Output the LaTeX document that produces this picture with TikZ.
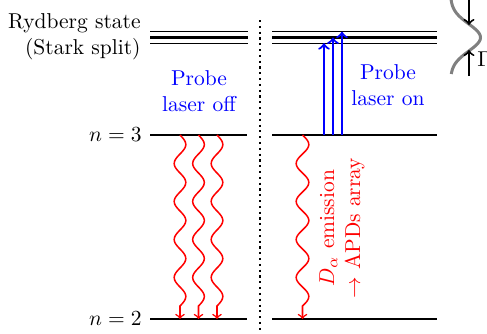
\documentclass[tikz,border=0pt]{standalone}
\begin{document}
\begin{tikzpicture}[x=0.465pt,y=-0.465pt,
  level/.style={line width=1pt},
  rydthin/.style={line width=0.5pt},
  rydthick/.style={line width=1pt},
  probe/.style={blue,line width=1pt,->},
  emit/.style={red,line width=0.7pt,->},
  wideline/.style={->,line width=0.9pt},
  lbl/.style={inner sep=0pt}]
\useasboundingbox (0,0) rectangle (487,333);
% coordinates
\coordinate (RLa1) at (150,31.7); \coordinate (RLb1) at (248,31.7);
\coordinate (RLa2) at (150,37.5); \coordinate (RLb2) at (248,37.5);
\coordinate (RLa3) at (150,43.2); \coordinate (RLb3) at (248,43.2);
\coordinate (RRa1) at (272,31.7); \coordinate (RRb1) at (437,31.7);
\coordinate (RRa2) at (272,37.5); \coordinate (RRb2) at (437,37.5);
\coordinate (RRa3) at (272,43.2); \coordinate (RRb3) at (437,43.2);
\coordinate (L3a) at (150,135); \coordinate (L3b) at (247,135);
\coordinate (R3a) at (272,135); \coordinate (R3b) at (437,135);
\coordinate (L2a) at (150,319); \coordinate (L2b) at (247,319);
\coordinate (R2a) at (272,319); \coordinate (R2b) at (437,319);
\coordinate (dotT) at (260,20); \coordinate (dotB) at (260,330);
% levels
\draw[rydthin] (RLa1) -- (RLb1); \draw[rydthick] (RLa2) -- (RLb2); \draw[rydthin] (RLa3) -- (RLb3);
\draw[rydthin] (RRa1) -- (RRb1); \draw[rydthick] (RRa2) -- (RRb2); \draw[rydthin] (RRa3) -- (RRb3);
\draw[level] (L3a) -- (L3b); \draw[level] (R3a) -- (R3b);
\draw[level] (L2a) -- (L2b); \draw[level] (R2a) -- (R2b);
% separator
\draw[line width=1pt,dash pattern=on 1pt off 1.7pt] (dotT) -- (dotB);
% labels
\node[lbl,anchor=east,align=right] (ryd) at (141,37) {Rydberg state\\(Stark split)};
\node[lbl,anchor=east] (n3) at (142,135) {$n=3$};
\node[lbl,anchor=east] (n2) at (142,319) {$n=2$};
\node[blue,align=center,lbl] (off) at (199,91) {Probe\\laser off};
\node[blue,align=center,lbl] (on) at (388,85) {Probe\\laser on};
\node[red,align=center,lbl,rotate=90] (emis) at (342,228) {$D_\alpha$ emission\\$\to$ APDs array};
% probe arrows
\coordinate (p1s) at (324,135); \coordinate (p1e) at (324,43.2);
\coordinate (p2s) at (333,135); \coordinate (p2e) at (333,37.5);
\coordinate (p3s) at (342,135); \coordinate (p3e) at (342,31.7);
\draw[probe] (p1s) -- (p1e);
\draw[probe] (p2s) -- (p2e);
\draw[probe] (p3s) -- (p3e);
% emission waves
\coordinate (w1s) at (180,135); \coordinate (w1e) at (180,319);
\coordinate (w2s) at (198.5,135); \coordinate (w2e) at (198.5,319);
\coordinate (w3s) at (217,135); \coordinate (w3e) at (217,319);
\coordinate (w4s) at (302.5,135); \coordinate (w4e) at (302.5,319);
\foreach \w in {w1,w2,w3}{
  \draw[emit,shift={(\w s)}] plot[domain=0:171,samples=120,smooth] ({5.8*sin(\x*9.4737)},\x) -- (\w e);
}
\draw[emit,shift={(w4s)}] plot[domain=0:171,samples=120,smooth] ({6.3*sin(\x*9.4737)},\x) -- (w4e);
% line profile
\draw[gray,line width=1.4pt] plot[domain=-8:74,samples=70,variable=\t]
  ({450.5+30*exp(-((\t-37.5)^2)/(2*13.6^2))},\t);
\coordinate (g1s) at (469,-2); \coordinate (g1e) at (469,25);
\coordinate (g2s) at (469,76); \coordinate (g2e) at (469,50);
\draw[wideline] (g1s) -- (g1e);
\draw[wideline] (g2s) -- (g2e);
\node[lbl,anchor=west] (gam) at (477,59) {$\Gamma$};
\end{tikzpicture}
\end{document}
